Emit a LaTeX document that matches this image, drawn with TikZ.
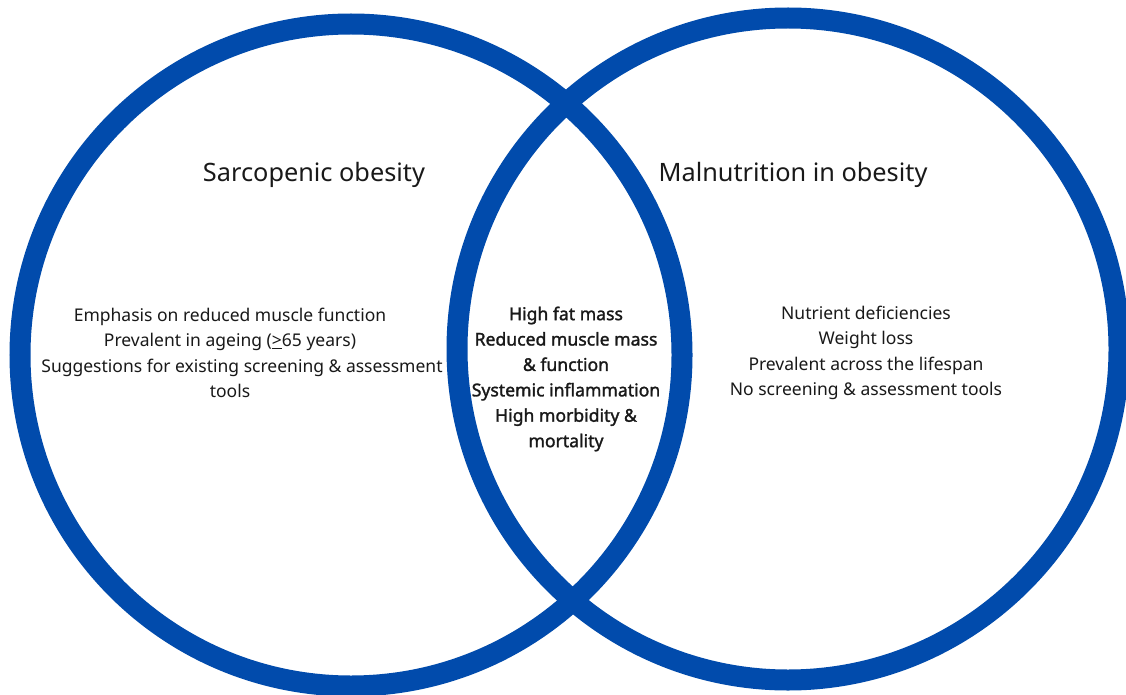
\documentclass[tikz,border=0pt]{standalone}
\usepackage{fontspec}
\setmainfont{Noto Sans}[BoldFont={Noto Sans}, BoldFeatures={FakeBold=1.6}]
\definecolor{vennblue}{RGB}{1,75,172}
\tikzset{
  ring/.style={draw=vennblue, line width=21pt},
  title/.style={font=\fontsize{25.3}{30}\selectfont, text=black!90, inner sep=0pt},
  body/.style={font=\fontsize{17.5}{25.3}\selectfont, align=center, text=black!90, inner sep=0pt},
  midbody/.style={body, font=\fontsize{17.6}{25.4}\selectfont\bfseries}
}
\begin{document}
\begin{tikzpicture}[x=1pt,y=-1pt]
\useasboundingbox (0,0) rectangle (1126,695);
\clip (0,0) rectangle (1126,695);
\fill[white] (0,0) rectangle (1126,695);
\draw[ring] (351,355) circle[radius=331];
\draw[ring] (788,349) circle[radius=331];
\node[title] (ta) at (314,175) {Sarcopenic obesity};
\node[title] (tb) at (793,175) {Malnutrition in obesity};
\node[body] (la) at (230,353) {Emphasis on reduced muscle function\\Prevalent in ageing (\underline{>}65 years)\\\hspace*{24pt}Suggestions for existing screening \& assessment\\tools};
\node[midbody] (mid) at (566,379) {High fat mass\\Reduced muscle mass\\\& function\\Systemic inflammation\\High morbidity \&\\mortality};
\node[body] (ra) at (866,353) {Nutrient deficiencies\\Weight loss\\Prevalent across the lifespan\\No screening \& assessment tools};
\end{tikzpicture}
\end{document}
